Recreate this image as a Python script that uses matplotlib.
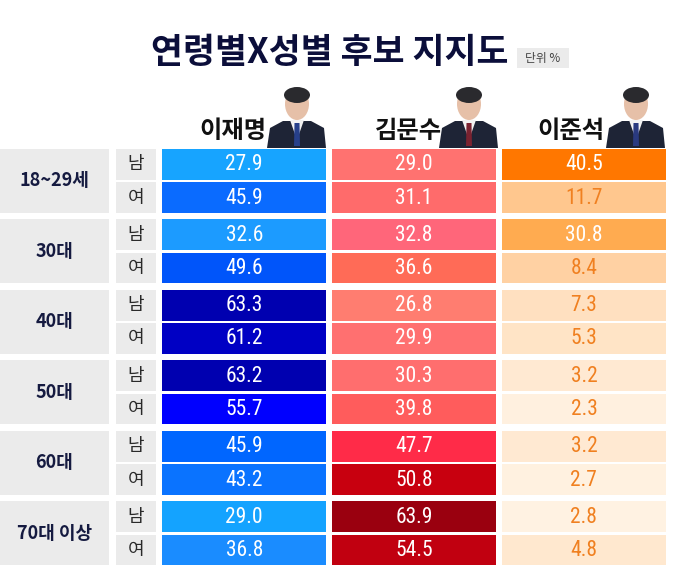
import matplotlib
matplotlib.use('Agg')
import matplotlib.pyplot as plt
from matplotlib import font_manager
from matplotlib.patches import Ellipse, Polygon

# ---------------- data ----------------
title = '연령별X성별 후보 지지도'
unit_label = '단위 %'
candidates = ['이재명', '김문수', '이준석']
age_groups = ['18~29세', '30대', '40대', '50대', '60대', '70대 이상']
sexes = ['남', '여']
lee_jm = [27.9, 45.9, 32.6, 49.6, 63.3, 61.2, 63.2, 55.7, 45.9, 43.2, 29.0, 36.8]
kim_ms = [29.0, 31.1, 32.8, 36.6, 26.8, 29.9, 30.3, 39.8, 47.7, 50.8, 63.9, 54.5]
lee_js = [40.5, 11.7, 30.8, 8.4, 7.3, 5.3, 3.2, 2.3, 3.2, 2.7, 2.8, 4.8]

# ---------------- styles ----------------
lee_jm_colors = ['#17a4ff', '#0a6bff', '#1c9bff', '#0055fa', '#0000b0', '#0000c4',
                 '#0000b0', '#0000ff', '#0066ff', '#0a73ff', '#14a3ff', '#1a8cff']
kim_ms_colors = ['#ff7270', '#ff6b6b', '#ff667a', '#ff6b57', '#ff7d70', '#ff7070',
                 '#ff6e6e', '#ff5c5c', '#ff2b48', '#c8000f', '#9a000f', '#c10010']
lee_js_colors = ['#ff7700', '#ffc78e', '#ffab50', '#ffd1a3', '#ffe0c0', '#ffe4c6',
                 '#ffe9d2', '#fff0df', '#ffe9d2', '#fff1e0', '#fff2e2', '#ffe8cf']
lee_js_text = ['white', '#f08020', 'white', '#f08020', '#f08020', '#f08020',
               '#f08020', '#f08020', '#f08020', '#f08020', '#f08020', '#f08020']

names = {f.name for f in font_manager.fontManager.ttflist}
if 'Liberation Sans Narrow' in names:
    num_family = 'Liberation Sans Narrow'
elif 'Roboto Condensed' in names:
    num_family = 'Roboto Condensed'
else:
    num_family = 'Roboto'
KR = ['Noto Sans CJK KR', 'DejaVu Sans']

fig = plt.figure(figsize=(6.73, 5.81), dpi=100)
ax = fig.add_axes([0, 0, 1, 1])
ax.set_xlim(0, 673)
ax.set_ylim(581, 0)
ax.axis('off')

# layout (pixels)
group_top0, group_step = 148.8, 70.5
row_h, row_step = 30.8, 33.3
col_left = [162.3, 332.0, 502.0]
col_w = 163.8
age_left, age_w = 0, 109
sex_left, sex_w = 115.5, 40.3
box_grey = '#ebebeb'

series = [lee_jm, kim_ms, lee_js]
series_colors = [lee_jm_colors, kim_ms_colors, lee_js_colors]
series_text = [['white'] * 12, ['white'] * 12, lee_js_text]

for g, age in enumerate(age_groups):
    gtop = group_top0 + g * group_step
    gh = row_step + row_h
    ax.barh(gtop + gh / 2, age_w, left=age_left, height=gh, color=box_grey)
    ax.text(age_left + age_w / 2, gtop + gh / 2, age, ha='center', va='center',
            fontsize=13, fontweight='heavy', color='#151a40', family=KR)
    for s, sex in enumerate(sexes):
        yc = gtop + s * row_step + row_h / 2
        ax.barh(yc, sex_w, left=sex_left, height=row_h, color=box_grey)
        ax.text(sex_left + sex_w / 2, yc, sex, ha='center', va='center',
                fontsize=13, color='#2a2a2a', family=KR)
        idx = g * 2 + s
        for c in range(3):
            ax.barh(yc, col_w, left=col_left[c], height=row_h,
                    color=series_colors[c][idx])
            ax.text(col_left[c] + col_w / 2, yc + 0.5, f'{series[c][idx]:.1f}',
                    ha='center', va='center', fontsize=15.5,
                    color=series_text[c][idx], family=num_family)

# title
ax.text(330, 53, title, ha='center', va='center', fontsize=25,
        fontweight='heavy', color='#0b0e3a', family=KR)
ax.barh(58, 52, left=517, height=20, color=box_grey)
ax.text(543, 58.5, unit_label, ha='center', va='center', fontsize=8.5,
        color='#444444', family=KR)

# decorative portrait silhouettes (stand-ins for photos)
def person(cx, tie):
    suit = Polygon([(cx - 30, 148), (cx + 29, 148), (cx + 27, 128), (cx + 14, 121),
                    (cx - 14, 121), (cx - 27, 128)], closed=True,
                   facecolor='#1e2436', edgecolor='none', zorder=2)
    shirt = Polygon([(cx - 7, 120), (cx + 7, 120), (cx, 140)], closed=True,
                    facecolor='#f2f2f2', edgecolor='none', zorder=3)
    tie_p = Polygon([(cx - 2.5, 123), (cx + 2.5, 123), (cx + 3, 146), (cx - 3, 146)],
                    closed=True, facecolor=tie, edgecolor='none', zorder=4)
    head = Ellipse((cx, 104), 24, 32, facecolor='#e6c0a8', edgecolor='none', zorder=3)
    hair = Ellipse((cx, 95), 26, 16, facecolor='#2a2a2e', edgecolor='none', zorder=4)
    for p in (suit, shirt, tie_p, head, hair):
        ax.add_patch(p)

for cx, tie in [(297, '#27408b'), (469, '#7a2230'), (636, '#2a3a80')]:
    person(cx, tie)

name_x = [233, 408, 571]
for nx, name in zip(name_x, candidates):
    ax.text(nx, 131, name, ha='center', va='center', fontsize=17.5,
            fontweight='heavy', color='#111111', family=KR)

fig.savefig('out.png', dpi=100, facecolor='white')
